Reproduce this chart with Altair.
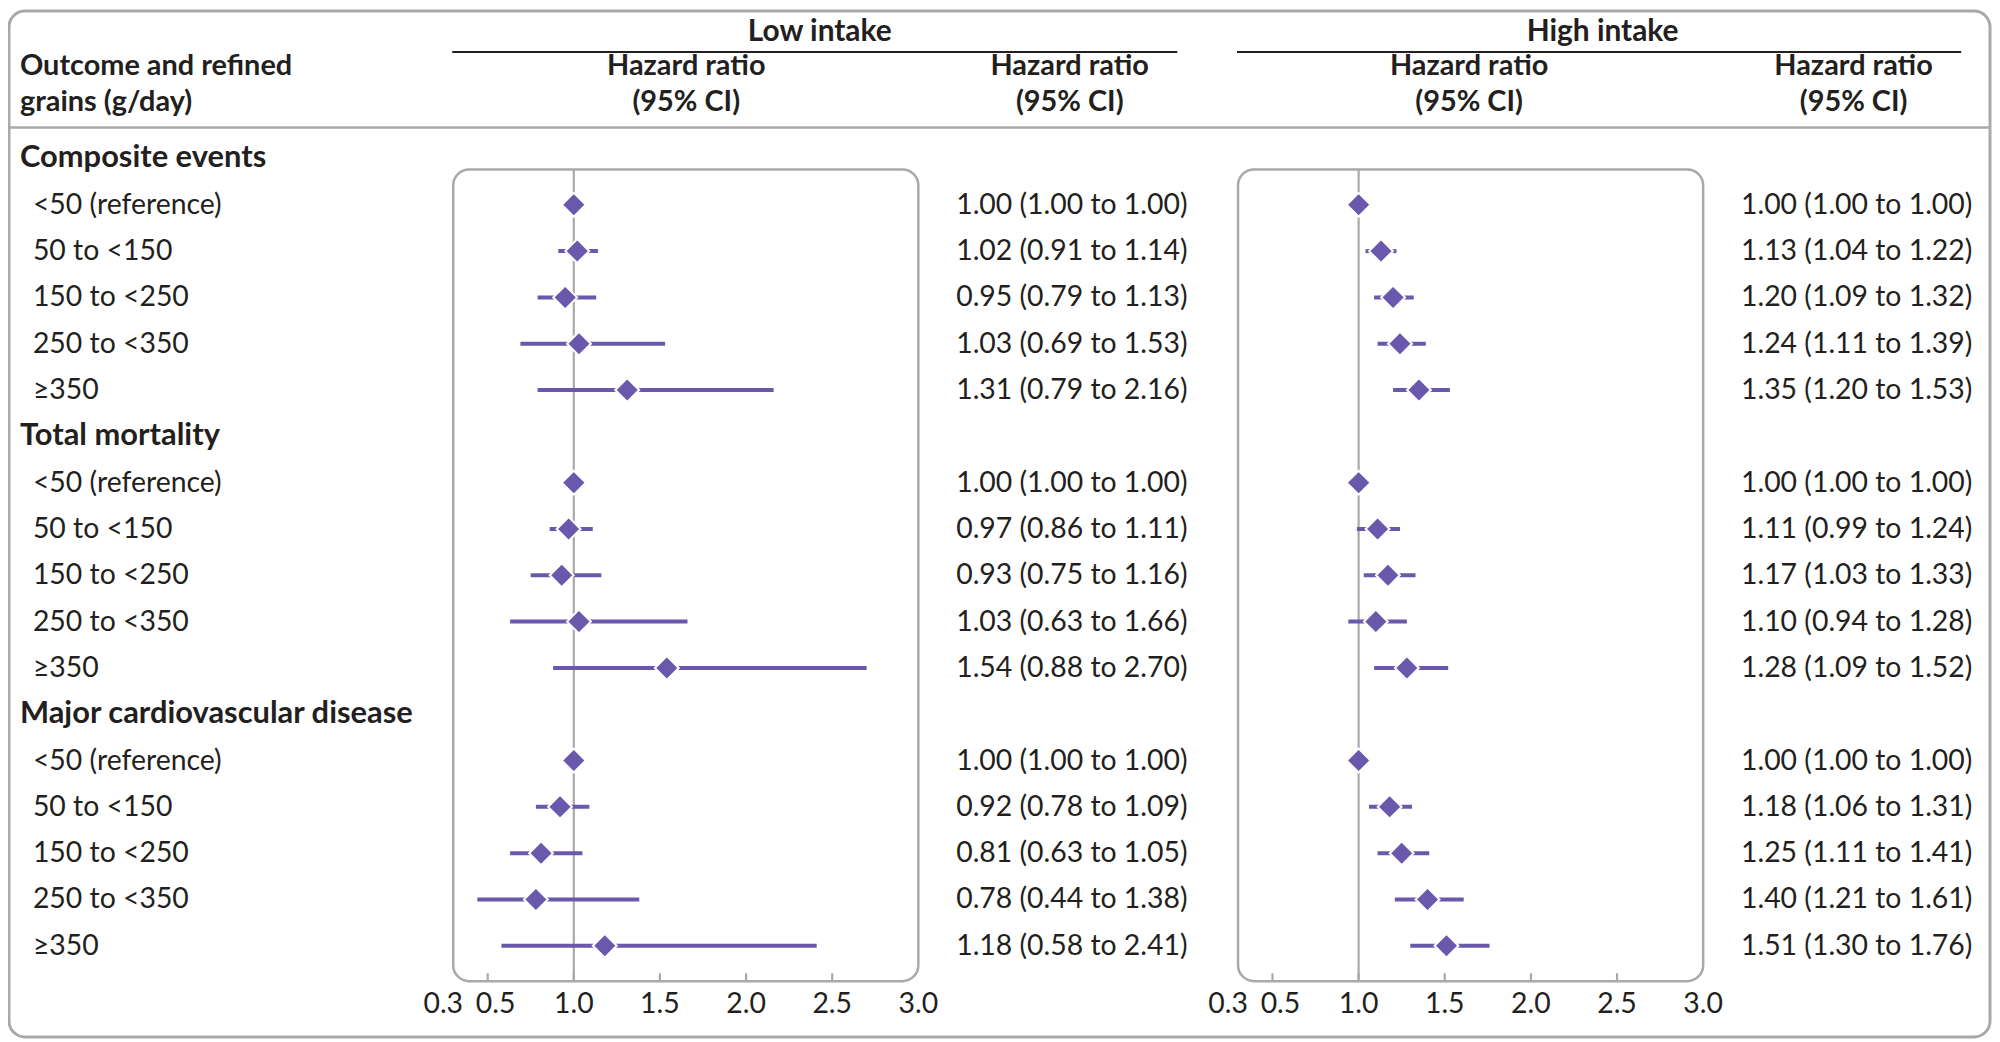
import altair as alt
import pandas as pd

# ---------------- data ----------------
sections = ["Composite events", "Total mortality", "Major cardiovascular disease"]
groups = ["<50 (reference)", "50 to <150", "150 to <250", "250 to <350", "≥350"]

low_hr = [1.00, 1.02, 0.95, 1.03, 1.31,
          1.00, 0.97, 0.93, 1.03, 1.54,
          1.00, 0.92, 0.81, 0.78, 1.18]
low_lo = [1.00, 0.91, 0.79, 0.69, 0.79,
          1.00, 0.86, 0.75, 0.63, 0.88,
          1.00, 0.78, 0.63, 0.44, 0.58]
low_hi = [1.00, 1.14, 1.13, 1.53, 2.16,
          1.00, 1.11, 1.16, 1.66, 2.70,
          1.00, 1.09, 1.05, 1.38, 2.41]

high_hr = [1.00, 1.13, 1.20, 1.24, 1.35,
           1.00, 1.11, 1.17, 1.10, 1.28,
           1.00, 1.18, 1.25, 1.40, 1.51]
high_lo = [1.00, 1.04, 1.09, 1.11, 1.20,
           1.00, 0.99, 1.03, 0.94, 1.09,
           1.00, 1.06, 1.11, 1.21, 1.30]
high_hi = [1.00, 1.22, 1.32, 1.39, 1.53,
           1.00, 1.24, 1.33, 1.28, 1.52,
           1.00, 1.31, 1.41, 1.61, 1.76]

tick_values = [0.3, 0.5, 1.0, 1.5, 2.0, 2.5, 3.0]
inner_ticks = [0.5, 1.0, 1.5, 2.0, 2.5]

# ---------------- styling / layout ----------------
FONT = "Lato"
TXT = "#231F20"
PURPLE = "#6A58AC"
GRAY = "#A9A9A9"
FS = 28.5
FSB = 29
FSS = 31
OFF = 8  # page margin


def X(v):
    return v - OFF


def Y(v):
    return v - OFF


W, H = 1992, 1034
ROW0, ROWSTEP = 157, 46.5
yscale = alt.Scale(domain=[0, 17], range=[Y(ROW0), Y(ROW0 + 17 * ROWSTEP)])

rows = []
est = []
i = 0
for s_i, sec in enumerate(sections):
    rows.append({"row": i, "label": sec, "kind": "head"})
    i += 1
    for g_i, g in enumerate(groups):
        k = s_i * 5 + g_i
        rows.append({"row": i, "label": g, "kind": "item"})
        est.append({
            "row": i,
            "lhr": low_hr[k], "llo": low_lo[k], "lhi": low_hi[k],
            "hhr": high_hr[k], "hlo": high_lo[k], "hhi": high_hi[k],
            "ltxt": f"{low_hr[k]:.2f} ({low_lo[k]:.2f} to {low_hi[k]:.2f})",
            "htxt": f"{high_hr[k]:.2f} ({high_lo[k]:.2f} to {high_hi[k]:.2f})",
        })
        i += 1
rows_df = pd.DataFrame(rows)
est_df = pd.DataFrame(est)
ticks_df = pd.DataFrame({"v": inner_ticks})
labels_df = pd.DataFrame({"v": tick_values, "lab": [f"{v:.1f}" for v in tick_values]})

one = pd.DataFrame({"a": [0]})

# ---------------- decoration ----------------
frame = alt.Chart(one).mark_rect(
    fill="white", stroke=GRAY, strokeWidth=3, cornerRadius=16
).encode(x=alt.value(1), x2=alt.value(W - 2), y=alt.value(1), y2=alt.value(H - 3))

sep = alt.Chart(one).mark_rule(color=GRAY, strokeWidth=2.5).encode(
    x=alt.value(1), x2=alt.value(W - 2), y=alt.value(Y(126)))

under_low = alt.Chart(one).mark_rule(color=TXT, strokeWidth=2).encode(
    x=alt.value(X(454)), x2=alt.value(X(1182)), y=alt.value(Y(50)))
under_high = alt.Chart(one).mark_rule(color=TXT, strokeWidth=2).encode(
    x=alt.value(X(1242)), x2=alt.value(X(1969)), y=alt.value(Y(50)))


def txt(text, x, y, align="center", size=FSB):
    return alt.Chart(one).mark_text(
        text=text, font=FONT, fontSize=size, fontWeight="bold",
        color=TXT, align=align, baseline="middle"
    ).encode(x=alt.value(X(x)), y=alt.value(Y(y)))


L1, L2 = 64, 100
headers = [
    txt("Low intake", 823, 30, size=FSS - 1),
    txt("High intake", 1609, 30, size=FSS - 1),
    txt("Outcome and refined", 20, L1, align="left"),
    txt("grains (g/day)", 20, L2, align="left"),
]
for cx in [689, 1074, 1475, 1861]:
    headers.append(txt("Hazard ratio", cx, L1))
    headers.append(txt("(95% CI)", cx, L2))

head_lbl = alt.Chart(rows_df).transform_filter(alt.datum.kind == "head").mark_text(
    font=FONT, fontSize=FSS, fontWeight="bold", color=TXT, align="left", baseline="middle"
).encode(x=alt.value(X(20)), y=alt.Y("row:Q", scale=yscale, axis=None), text="label:N")
item_lbl = alt.Chart(rows_df).transform_filter(alt.datum.kind == "item").mark_text(
    font=FONT, fontSize=FS, color=TXT, align="left", baseline="middle"
).encode(x=alt.value(X(33)), y=alt.Y("row:Q", scale=yscale, axis=None), text="label:N")

low_txt = alt.Chart(est_df).mark_text(
    font=FONT, fontSize=FS, color=TXT, align="left", baseline="middle"
).encode(x=alt.value(X(960)), y=alt.Y("row:Q", scale=yscale, axis=None), text="ltxt:N")
high_txt = alt.Chart(est_df).mark_text(
    font=FONT, fontSize=FS, color=TXT, align="left", baseline="middle"
).encode(x=alt.value(X(1748)), y=alt.Y("row:Q", scale=yscale, axis=None), text="htxt:N")

BOX_T, BOX_B = 168, 983


def forest(hr, lo, hi, x0, x1):
    xs = alt.Scale(domain=[0.3, 3.0], range=[X(x0), X(x1)], nice=False, zero=False)
    box = alt.Chart(one).mark_rect(
        fill="white", stroke=GRAY, strokeWidth=2.5, cornerRadius=16
    ).encode(x=alt.X("d:Q", scale=xs, axis=None), x2=alt.datum(3.0),
             y=alt.value(Y(BOX_T)), y2=alt.value(Y(BOX_B))).transform_calculate(d="0.3")
    ref = alt.Chart(one).mark_rule(color=GRAY, strokeWidth=2.2).encode(
        x=alt.X("d:Q", scale=xs, axis=None), y=alt.value(Y(BOX_T)), y2=alt.value(Y(BOX_B))
    ).transform_calculate(d="1.0")
    tk = alt.Chart(ticks_df).mark_rule(color=GRAY, strokeWidth=2.2).encode(
        x=alt.X("v:Q", scale=xs, axis=None), y=alt.value(Y(BOX_B - 8)), y2=alt.value(Y(BOX_B)))

    def tlab(flt, dx):
        return alt.Chart(labels_df).transform_filter(flt).mark_text(
            font=FONT, fontSize=FS, color=TXT, align="center", baseline="middle", dx=dx
        ).encode(x=alt.X("v:Q", scale=xs, axis=None), y=alt.value(Y(1006)), text="lab:N")

    tl_a = tlab(alt.datum.v < 0.4, -10)
    tl_b = tlab((alt.datum.v > 0.4) & (alt.datum.v < 0.6), 8)
    tl_c = tlab(alt.datum.v > 0.6, 0)
    ci = alt.Chart(est_df).mark_rule(color=PURPLE, strokeWidth=4).encode(
        x=alt.X(f"{lo}:Q", scale=xs, axis=None), x2=f"{hi}:Q",
        y=alt.Y("row:Q", scale=yscale, axis=None))
    pt = alt.Chart(est_df).mark_point(
        shape="diamond", filled=True, fill=PURPLE, stroke="white", strokeWidth=2,
        size=576, opacity=1
    ).encode(x=alt.X(f"{hr}:Q", scale=xs, axis=None),
             y=alt.Y("row:Q", scale=yscale, axis=None))
    return alt.layer(box, ref, tk, tl_a, tl_b, tl_c, ci, pt)


low_panel = forest("lhr", "llo", "lhi", 455, 922)
high_panel = forest("hhr", "hlo", "hhi", 1243, 1710)

chart = alt.layer(
    frame, sep, under_low, under_high, *headers,
    head_lbl, item_lbl, low_txt, high_txt,
    low_panel, high_panel
).resolve_scale(x="independent").properties(
    width=W, height=H, padding=0,
    autosize=alt.AutoSizeParams(type="none")
).configure_view(stroke=None)

chart.save("out.html", embed_options={"renderer": "svg", "actions": False})
